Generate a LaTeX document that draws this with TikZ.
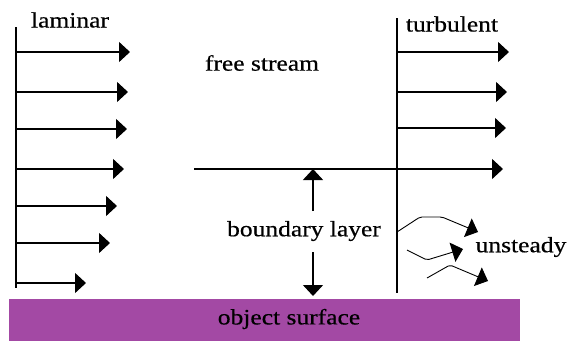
\documentclass[tikz,border=0pt]{standalone}
\usepackage{fontspec}
\setmainfont[FakeStretch=1.16,FakeBold=0.5]{Liberation Serif}
\usetikzlibrary{arrows.meta}
\definecolor{surface}{RGB}{163,73,164}
\tikzset{
  flow/.style={line width=1.3pt,-{Triangle[length=11pt,width=20pt]}},
  wall/.style={line width=1.4pt},
  wave/.style={line width=0.9pt,-{Triangle[length=11pt,width=20pt]},rounded corners=2pt},
  lbl/.style={font=\fontsize{22}{24}\selectfont,inner sep=0pt}
}
\begin{document}
\begin{tikzpicture}[x=1pt,y=-1pt]
\useasboundingbox (0,0) rectangle (567,341);
% object surface
\node[fill=surface,minimum width=511pt,minimum height=42pt,inner sep=0pt,anchor=north west] (surf) at (9,299) {};
\node[lbl] (surftext) at (289,319) {object surface};
% laminar profile
\coordinate (lt) at (16,27); \coordinate (lb) at (16,288);
\draw[wall] (lt) -- (lb);
\node[lbl] (lam) at (70,20) {laminar};
\foreach \i/\y/\e in {1/52/130,2/92/128,3/129/127,4/169/124,5/206/117,6/243/110,7/283/86}{
  \coordinate (ls\i) at (16,\y); \coordinate (le\i) at (\e,\y);
  \draw[flow] (ls\i) -- (le\i);
}
% turbulent profile
\coordinate (tt) at (397,18); \coordinate (tb) at (397,293);
\draw[wall] (tt) -- (tb);
\node[lbl] (turb) at (452,24) {turbulent};
\foreach \i/\y/\e in {1/52/509,2/92/507,3/128/506}{
  \coordinate (ts\i) at (397,\y); \coordinate (te\i) at (\e,\y);
  \draw[flow] (ts\i) -- (te\i);
}
% edge of the boundary layer
\coordinate (edge) at (194,169); \coordinate (edgeend) at (503,169);
\draw[flow] (edge) -- (edgeend);
\node[lbl] (fs) at (262,63) {free stream};
% boundary layer thickness
\node[lbl] (bl) at (304,231) {boundary layer};
\coordinate (bltop) at (313,169); \coordinate (blbot) at (313,296);
\draw[flow] (313,211) -- (bltop);
\draw[flow] (313,252) -- (blbot);
% unsteady eddies
\coordinate (w1s) at (397,232); \coordinate (w1e) at (478,232);
\draw[wave] (w1s) -- (420,217) -- (442,217) -- (w1e);
\coordinate (w2s) at (407,250); \coordinate (w2e) at (463,249);
\draw[wave] (w2s) -- (427,260) -- (w2e);
\coordinate (w3s) at (427,278); \coordinate (w3e) at (488,281);
\draw[wave] (w3s) -- (450,265) -- (w3e);
\node[lbl] (uns) at (521,247) {unsteady};
\end{tikzpicture}
\end{document}
